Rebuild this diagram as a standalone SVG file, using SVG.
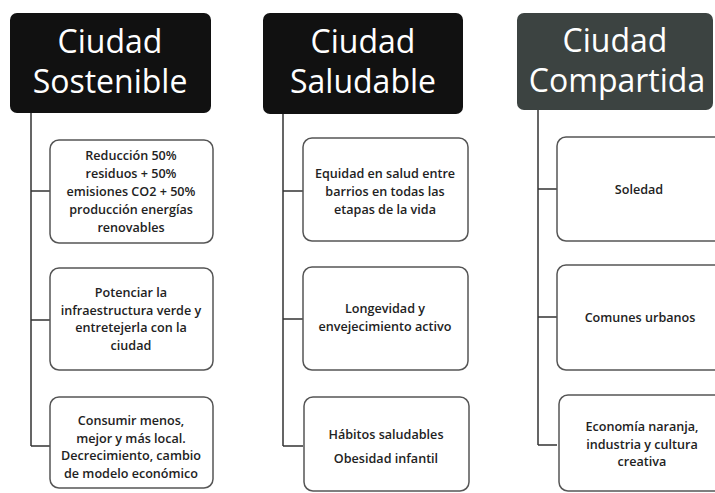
<svg xmlns="http://www.w3.org/2000/svg" width="715" height="493" viewBox="0 0 715 493">
<style>
.hd{fill:#111;}
.hd3{fill:#3c4341;}
.ht{font-family:"Open Sans","DejaVu Sans",sans-serif;font-size:32px;fill:#fff;text-anchor:middle;}
.bx{fill:#fff;stroke:#555;stroke-width:1.5;}
.bt{font-family:"Open Sans","DejaVu Sans",sans-serif;font-size:12.6px;font-weight:600;fill:#222;text-anchor:middle;}
.cn{fill:none;stroke:#333;stroke-width:1.5;}
</style>
<rect width="715" height="493" fill="#fff"/>
<g id="connectors">
<path class="cn" d="M31,113 V446 M31,191 H50 M31,320 H50 M31,446 H50"/>
<path class="cn" d="M283,113 V446 M283,191 H303 M283,319 H303 M283,446 H303"/>
<path class="cn" d="M538,110 V445 M538,189 H557 M538,317 H557 M538,445 H557"/>
</g>
<g id="h1"><rect class="hd" x="10" y="13" width="201" height="100" rx="7"/>
<text class="ht" x="110" y="53">Ciudad</text><text class="ht" x="110" y="93">Sostenible</text></g>
<g id="h2"><rect class="hd" x="263" y="13" width="200" height="101" rx="7"/>
<text class="ht" x="363" y="53">Ciudad</text><text class="ht" x="363" y="93">Saludable</text></g>
<g id="h3"><rect class="hd3" x="517" y="13" width="196" height="97" rx="7"/>
<text class="ht" x="615" y="52">Ciudad</text><text class="ht" x="617" y="92">Compartida</text></g>
<g id="b1a"><rect class="bx" x="50" y="140" width="163" height="103" rx="9"/>
<text class="bt" x="131" y="160">Reducción 50%</text><text class="bt" x="131" y="178">residuos + 50%</text><text class="bt" x="131" y="196">emisiones  CO2 + 50%</text><text class="bt" x="131" y="214">producción energías</text><text class="bt" x="131" y="232">renovables</text></g>
<g id="b1b"><rect class="bx" x="50" y="268" width="163" height="102" rx="9"/>
<text class="bt" x="131" y="297">Potenciar la</text><text class="bt" x="131" y="314.5">infraestructura verde y</text><text class="bt" x="131" y="332">entretejerla con la</text><text class="bt" x="131" y="349.5">ciudad</text></g>
<g id="b1c"><rect class="bx" x="50" y="397" width="163" height="91" rx="9"/>
<text class="bt" x="131" y="425">Consumir menos,</text><text class="bt" x="131" y="442.5">mejor y más local.</text><text class="bt" x="131" y="460">Decrecimiento, cambio</text><text class="bt" x="131" y="477.5">de modelo económico</text></g>
<g id="b2a"><rect class="bx" x="303" y="138" width="165" height="103" rx="9"/>
<text class="bt" x="385" y="178">Equidad en salud entre</text><text class="bt" x="385" y="196">barrios en todas las</text><text class="bt" x="385" y="214">etapas de la vida</text></g>
<g id="b2b"><rect class="bx" x="303" y="267" width="165" height="103" rx="9"/>
<text class="bt" x="385" y="313">Longevidad y</text><text class="bt" x="385" y="331">envejecimiento activo</text></g>
<g id="b2c"><rect class="bx" x="304" y="397" width="165" height="94" rx="9"/>
<text class="bt" x="386" y="439">Hábitos saludables</text><text class="bt" x="386" y="463">Obesidad infantil</text></g>
<g id="b3a"><rect class="bx" x="557" y="137" width="170" height="104" rx="9"/>
<text class="bt" x="639" y="194">Soledad</text></g>
<g id="b3b"><rect class="bx" x="557" y="265" width="170" height="105" rx="9"/>
<text class="bt" x="640" y="322">Comunes urbanos</text></g>
<g id="b3c"><rect class="bx" x="559" y="395" width="170" height="96" rx="9"/>
<text class="bt" x="642" y="431">Economía naranja,</text><text class="bt" x="642" y="448.5">industria y cultura</text><text class="bt" x="642" y="466">creativa</text></g>
</svg>
